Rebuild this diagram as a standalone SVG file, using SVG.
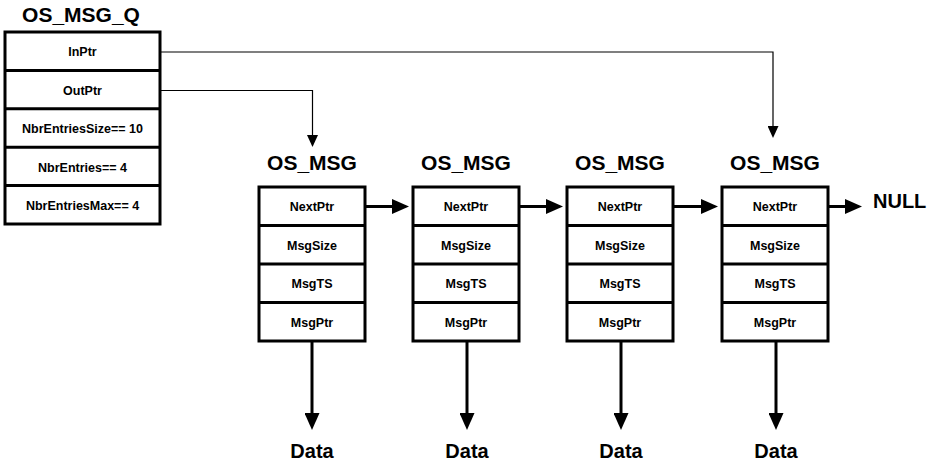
<svg xmlns="http://www.w3.org/2000/svg" width="931" height="462" viewBox="0 0 931 462">
<style>
  .box { fill: #fff; stroke: #000; stroke-width: 3; }
  .sep { stroke: #000; stroke-width: 3; }
  .title { font-family: "Liberation Sans", Arial, sans-serif; font-weight: bold; font-size: 21px; fill: #000; text-anchor: middle; }
  .lbl { font-family: "Liberation Sans", Arial, sans-serif; font-weight: bold; font-size: 12.5px; fill: #000; text-anchor: middle; }
  .big { font-family: "Liberation Sans", Arial, sans-serif; font-weight: bold; font-size: 20px; fill: #000; }
  .thin { fill: none; stroke: #000; stroke-width: 1.2; }
  .thick { fill: none; stroke: #000; stroke-width: 3; }
</style>
<defs>
  <marker id="ah-thin" markerUnits="userSpaceOnUse" markerWidth="12" markerHeight="11" refX="4" refY="5.5" orient="auto">
    <path d="M0,0 L12,5.5 L0,11 z" fill="#000"/>
  </marker>
  <marker id="ah-thick" markerUnits="userSpaceOnUse" markerWidth="17" markerHeight="15" refX="6" refY="7.5" orient="auto">
    <path d="M0,0 L17,7.5 L0,15 z" fill="#000"/>
  </marker>
</defs>
<rect width="931" height="462" fill="#fff"/>

<g id="os_msg_q">
  <text class="title" x="81" y="22">OS_MSG_Q</text>
  <rect class="box" x="5" y="32" width="155" height="192"/>
  <line class="sep" x1="5" y1="70.4" x2="160" y2="70.4"/>
  <line class="sep" x1="5" y1="108.8" x2="160" y2="108.8"/>
  <line class="sep" x1="5" y1="147.2" x2="160" y2="147.2"/>
  <line class="sep" x1="5" y1="185.6" x2="160" y2="185.6"/>
  <text class="lbl" x="82.5" y="56">InPtr</text>
  <text class="lbl" x="82.5" y="95">OutPtr</text>
  <text class="lbl" x="82.5" y="133">NbrEntriesSize== 10</text>
  <text class="lbl" x="82.5" y="171.5">NbrEntries== 4</text>
  <text class="lbl" x="82.5" y="209.5">NbrEntriesMax== 4</text>
</g>

<g id="os_msg_1">
  <text class="title" x="312" y="170">OS_MSG</text>
  <rect class="box" x="259" y="187" width="106" height="154"/>
  <line class="sep" x1="259" y1="225.5" x2="365" y2="225.5"/>
  <line class="sep" x1="259" y1="264" x2="365" y2="264"/>
  <line class="sep" x1="259" y1="302.5" x2="365" y2="302.5"/>
  <text class="lbl" x="312" y="211">NextPtr</text>
  <text class="lbl" x="312" y="249.5">MsgSize</text>
  <text class="lbl" x="312" y="288">MsgTS</text>
  <text class="lbl" x="312" y="326.5">MsgPtr</text>
</g>

<g id="os_msg_2">
  <text class="title" x="466" y="170">OS_MSG</text>
  <rect class="box" x="413" y="187" width="106" height="154"/>
  <line class="sep" x1="413" y1="225.5" x2="519" y2="225.5"/>
  <line class="sep" x1="413" y1="264" x2="519" y2="264"/>
  <line class="sep" x1="413" y1="302.5" x2="519" y2="302.5"/>
  <text class="lbl" x="466" y="211">NextPtr</text>
  <text class="lbl" x="466" y="249.5">MsgSize</text>
  <text class="lbl" x="466" y="288">MsgTS</text>
  <text class="lbl" x="466" y="326.5">MsgPtr</text>
</g>

<g id="os_msg_3">
  <text class="title" x="620" y="170">OS_MSG</text>
  <rect class="box" x="567" y="187" width="106" height="154"/>
  <line class="sep" x1="567" y1="225.5" x2="673" y2="225.5"/>
  <line class="sep" x1="567" y1="264" x2="673" y2="264"/>
  <line class="sep" x1="567" y1="302.5" x2="673" y2="302.5"/>
  <text class="lbl" x="620" y="211">NextPtr</text>
  <text class="lbl" x="620" y="249.5">MsgSize</text>
  <text class="lbl" x="620" y="288">MsgTS</text>
  <text class="lbl" x="620" y="326.5">MsgPtr</text>
</g>

<g id="os_msg_4">
  <text class="title" x="775" y="170">OS_MSG</text>
  <rect class="box" x="722" y="187" width="106" height="154"/>
  <line class="sep" x1="722" y1="225.5" x2="828" y2="225.5"/>
  <line class="sep" x1="722" y1="264" x2="828" y2="264"/>
  <line class="sep" x1="722" y1="302.5" x2="828" y2="302.5"/>
  <text class="lbl" x="775" y="211">NextPtr</text>
  <text class="lbl" x="775" y="249.5">MsgSize</text>
  <text class="lbl" x="775" y="288">MsgTS</text>
  <text class="lbl" x="775" y="326.5">MsgPtr</text>
</g>

<g id="null">
  <text class="big" x="873" y="208">NULL</text>
</g>

<g id="data">
  <text class="big" x="312" y="458" text-anchor="middle">Data</text>
  <text class="big" x="467" y="458" text-anchor="middle">Data</text>
  <text class="big" x="621" y="458" text-anchor="middle">Data</text>
  <text class="big" x="776" y="458" text-anchor="middle">Data</text>
</g>

<g id="connectors">
  <polyline class="thin" points="160,52 773,52 773,130" marker-end="url(#ah-thin)"/>
  <polyline class="thin" points="160,90.5 312.5,90.5 312.5,139" marker-end="url(#ah-thin)"/>
  <line class="thick" x1="365" y1="206.5" x2="398" y2="206.5" marker-end="url(#ah-thick)"/>
  <line class="thick" x1="519" y1="206.5" x2="552" y2="206.5" marker-end="url(#ah-thick)"/>
  <line class="thick" x1="673" y1="206.5" x2="707" y2="206.5" marker-end="url(#ah-thick)"/>
  <line class="thick" x1="828" y1="206.5" x2="851" y2="206.5" marker-end="url(#ah-thick)"/>
  <line class="thick" x1="312" y1="341" x2="312" y2="419" marker-end="url(#ah-thick)"/>
  <line class="thick" x1="467" y1="341" x2="467" y2="419" marker-end="url(#ah-thick)"/>
  <line class="thick" x1="621" y1="341" x2="621" y2="419" marker-end="url(#ah-thick)"/>
  <line class="thick" x1="776" y1="341" x2="776" y2="419" marker-end="url(#ah-thick)"/>
</g>
</svg>
